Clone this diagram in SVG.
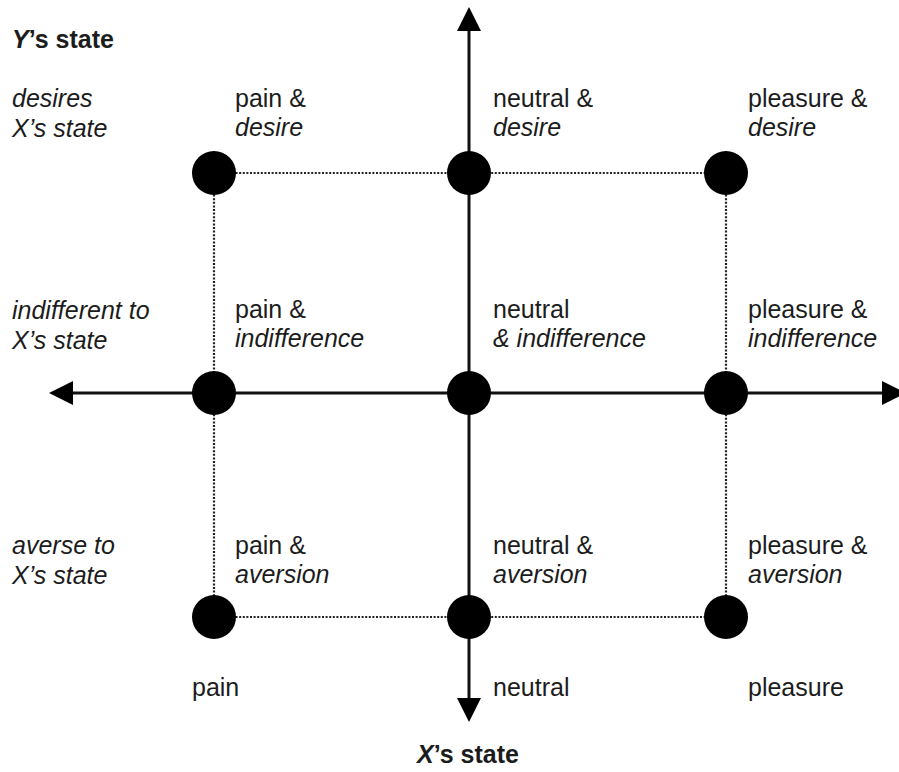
<svg xmlns="http://www.w3.org/2000/svg" width="899" height="772" viewBox="0 0 899 772">
  <style>
    text { font-family: "Liberation Sans", Arial, Helvetica, sans-serif; font-size: 25px; fill: #1c1c1c; }
    .it { font-style: italic; }
    .bold { font-weight: bold; }
    .axis { stroke: #111; stroke-width: 3; fill: none; }
    .grid { stroke: #222; stroke-width: 2.2; stroke-dasharray: 2 1.6; fill: none; }
    .node { fill: #000; }
  </style>
  <defs>
    <marker id="arrow" viewBox="0 -12 24 24" markerWidth="24" markerHeight="24" refX="0" refY="0" markerUnits="userSpaceOnUse" orient="auto-start-reverse">
      <path d="M0,-12 L24,0 L0,12 z" fill="#000"/>
    </marker>
  </defs>
  <rect width="899" height="772" fill="#fff"/>

  <!-- connectors: dotted grid and the two axes -->
  <g id="connectors">
    <line class="grid" x1="214" y1="173" x2="726" y2="173"/>
    <line class="grid" x1="214" y1="617" x2="726" y2="617"/>
    <line class="grid" x1="214" y1="173" x2="214" y2="617"/>
    <line class="grid" x1="726" y1="173" x2="726" y2="617"/>
    <line class="axis" x1="469" y1="31" x2="469" y2="698" marker-start="url(#arrow)" marker-end="url(#arrow)"/>
    <line class="axis" x1="73" y1="393" x2="882" y2="393" marker-start="url(#arrow)" marker-end="url(#arrow)"/>
  </g>

  <!-- axis titles and row labels -->
  <g id="labels">
    <text class="bold" x="12" y="48"><tspan class="it">Y</tspan>’s state</text>
    <text class="it" x="12" y="107">desires</text>
    <text class="it" x="12" y="137">X’s state</text>
    <text class="it" x="12" y="319">indifferent to</text>
    <text class="it" x="12" y="349">X’s state</text>
    <text class="it" x="12" y="554">averse to</text>
    <text class="it" x="12" y="584">X’s state</text>
    <text x="192" y="696">pain</text>
    <text x="493" y="696">neutral</text>
    <text x="748" y="696">pleasure</text>
    <text class="bold" x="417" y="763"><tspan class="it">X</tspan>’s state</text>
  </g>

  <!-- nodes -->
  <g id="pain-desire">
    <circle class="node" cx="214" cy="173" r="22"/>
    <text x="235" y="107">pain &amp;</text>
    <text class="it" x="235" y="136">desire</text>
  </g>
  <g id="neutral-desire">
    <circle class="node" cx="469" cy="173" r="22"/>
    <text x="493" y="107">neutral &amp;</text>
    <text class="it" x="493" y="136">desire</text>
  </g>
  <g id="pleasure-desire">
    <circle class="node" cx="726" cy="173" r="22"/>
    <text x="748" y="107">pleasure &amp;</text>
    <text class="it" x="748" y="136">desire</text>
  </g>
  <g id="pain-indifference">
    <circle class="node" cx="214" cy="393" r="22"/>
    <text x="235" y="318">pain &amp;</text>
    <text class="it" x="235" y="347">indifference</text>
  </g>
  <g id="neutral-indifference">
    <circle class="node" cx="469" cy="393" r="22"/>
    <text x="493" y="318">neutral</text>
    <text class="it" x="493" y="347">&amp; indifference</text>
  </g>
  <g id="pleasure-indifference">
    <circle class="node" cx="726" cy="393" r="22"/>
    <text x="748" y="318">pleasure &amp;</text>
    <text class="it" x="748" y="347">indifference</text>
  </g>
  <g id="pain-aversion">
    <circle class="node" cx="214" cy="617" r="22"/>
    <text x="235" y="554">pain &amp;</text>
    <text class="it" x="235" y="583">aversion</text>
  </g>
  <g id="neutral-aversion">
    <circle class="node" cx="469" cy="617" r="22"/>
    <text x="493" y="554">neutral &amp;</text>
    <text class="it" x="493" y="583">aversion</text>
  </g>
  <g id="pleasure-aversion">
    <circle class="node" cx="726" cy="617" r="22"/>
    <text x="748" y="554">pleasure &amp;</text>
    <text class="it" x="748" y="583">aversion</text>
  </g>
</svg>
